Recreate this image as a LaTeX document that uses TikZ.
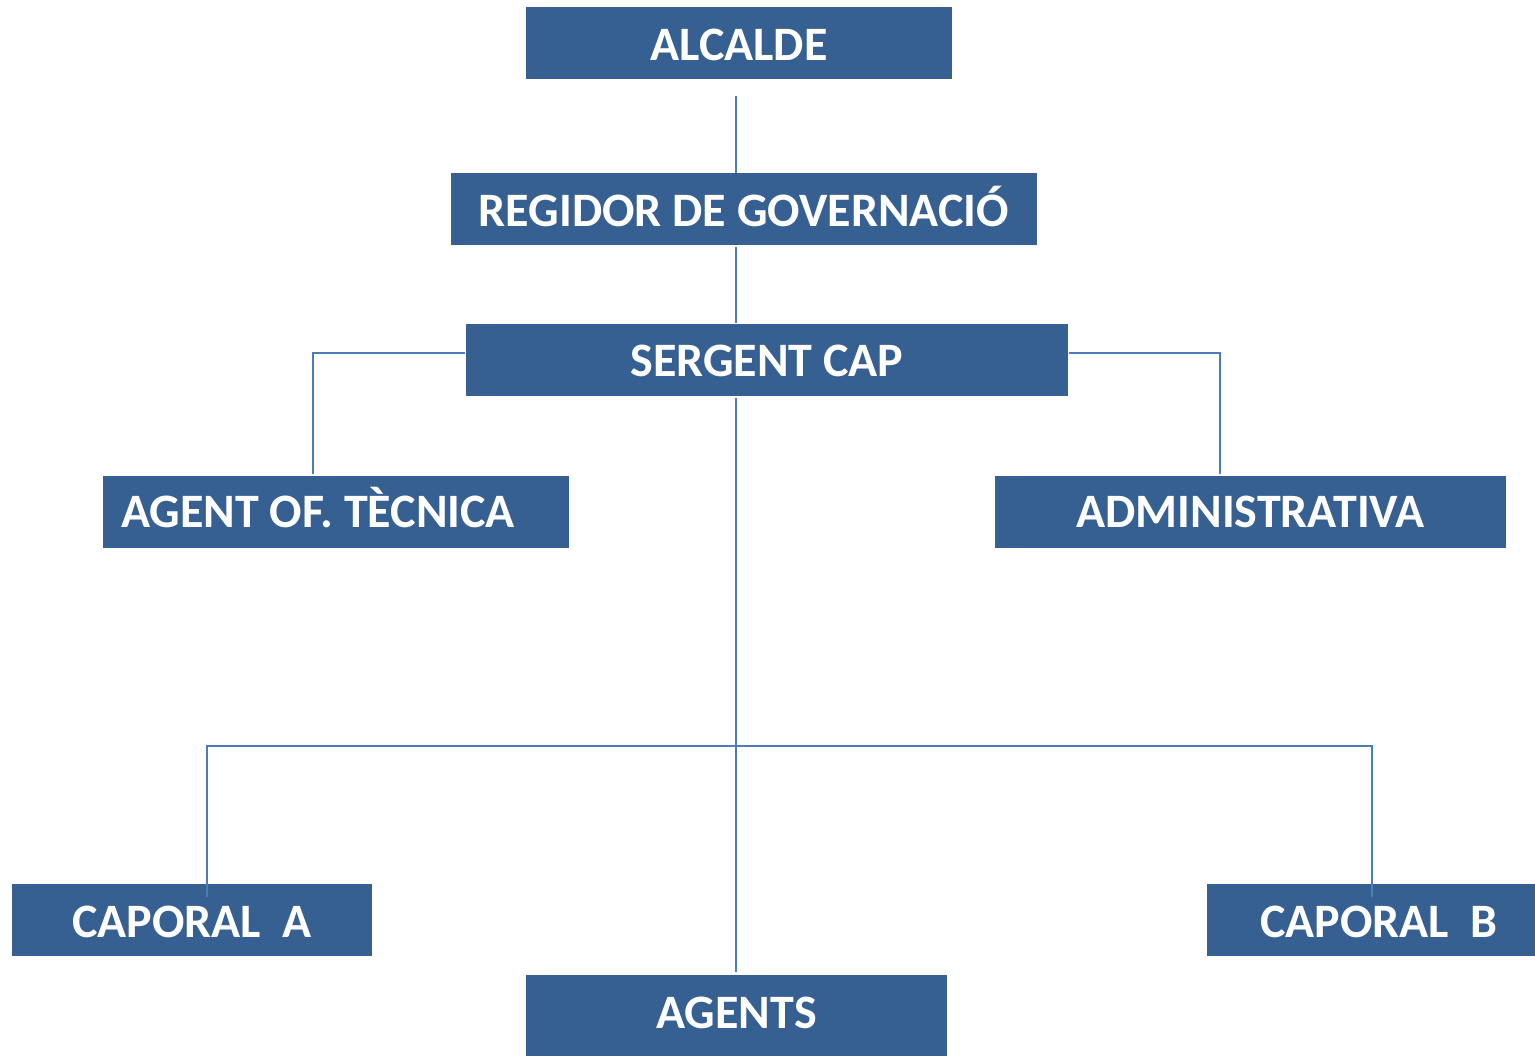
\documentclass[tikz,border=0pt]{standalone}
\usepackage{fontspec}
\setmainfont{Carlito}
\usetikzlibrary{calc}
\definecolor{boxblue}{HTML}{376092}
\definecolor{lineblue}{HTML}{4A7EBB}
\tikzset{
  orgbox/.style={rectangle, fill=boxblue, text=white, inner sep=0pt,
    font=\fontsize{36}{42}\selectfont\bfseries\frenchspacing, minimum height=54pt,
    text height=22.8pt, text depth=0pt},
  link/.style={draw=lineblue, line width=1.5pt}
}
\begin{document}
\begin{tikzpicture}[x=0.75pt,y=-0.75pt]
\useasboundingbox (0,0) rectangle (1535,1056);
\node[orgbox, minimum width=319.5pt] (alc) at (739,43) {\raisebox{-2.1pt}{ALCALDE}};
\node[orgbox, minimum width=439.5pt] (reg) at (744,209) {\raisebox{-2pt}{REGIDOR DE GOVERNACIÓ}};
\node[orgbox, minimum width=451.5pt] (ser) at (767,360) {\raisebox{-1.3pt}{SERGENT CAP}};
\node[orgbox, minimum width=349.5pt] (aot) at (336,512) {\makebox[322.5pt][l]{AGENT OF. TÈCNICA}};
\node[orgbox, minimum width=383.25pt] (adm) at (1250.5,512) {ADMINISTRATIVA};
\node[orgbox, minimum width=270pt] (capA) at (192,920) {\raisebox{-1.5pt}{CAPORAL~~A}};
\node[orgbox, minimum width=258pt] (capB) at (1379,920) {\raisebox{-1.5pt}{CAPORAL~~B}};
\node[orgbox, minimum width=315.75pt, minimum height=63.75pt] (ag) at (736.5,1017.5) {\raisebox{3.15pt}{AGENTS}};
\coordinate (vx) at (736,0);
\coordinate (j) at (736,746);
\draw[link] ($(alc.south -| vx)+(0,17)$) -- (reg.north -| vx);
\draw[link] ($(reg.south -| vx)+(0,2)$) -- ($(ser.north -| vx)+(0,-1)$);
\draw[link] ([yshift=5.25pt,xshift=-0.75pt]ser.west) -| ([xshift=-17.25pt,yshift=1.5pt]aot.north);
\draw[link] ([yshift=5.25pt,xshift=0.75pt]ser.east) -| ([xshift=-22.875pt,yshift=1.5pt]adm.north);
\draw[link] ($(ser.south -| vx)+(0,2)$) -- ($(ag.north -| vx)+(0,-3)$);
\draw[link] ([xshift=11.25pt,yshift=-9.75pt]capA.north) |- (j) -| ([xshift=-5.25pt,yshift=-9.75pt]capB.north);
\end{tikzpicture}
\end{document}
